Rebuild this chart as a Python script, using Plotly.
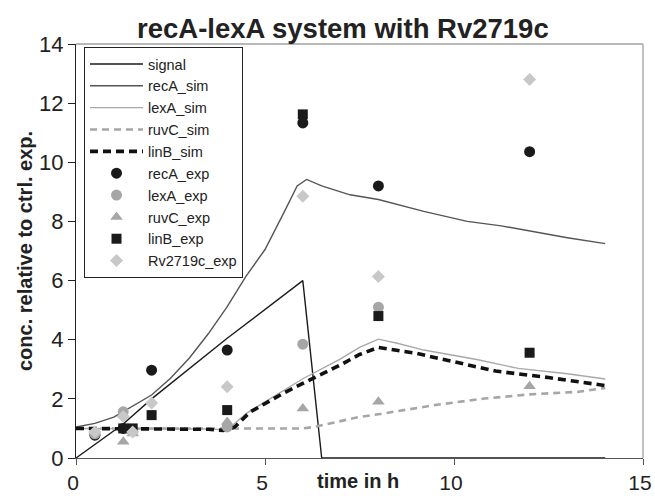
import plotly.graph_objects as go

# ---- data ----
signal_t = [0, 1.25, 2, 4, 6, 6.5, 14]
signal_v = [0, 1.15, 2.0, 4.05, 6.0, 0, 0]

recA_sim_t = [0, 0.5, 1, 1.5, 2, 2.5, 3, 3.5, 4, 4.5, 5, 5.5, 5.85, 6.1, 6.5, 7.25, 8, 9.2, 10.35, 11.25, 12, 13, 14]
recA_sim_v = [1.05, 1.17, 1.38, 1.75, 2.13, 2.7, 3.38, 4.2, 5.12, 6.15, 7.05, 8.3, 9.2, 9.42, 9.2, 8.9, 8.74, 8.34, 8.0, 7.85, 7.68, 7.45, 7.25]

lexA_sim_t = [0, 1, 2, 3, 3.5, 4, 4.5, 5, 5.5, 6, 7, 7.5, 8, 8.5, 9.2, 10.6, 11.7, 13, 14]
lexA_sim_v = [1.0, 1.0, 1.0, 1.0, 0.98, 0.95, 1.5, 1.9, 2.3, 2.68, 3.35, 3.74, 4.02, 3.88, 3.65, 3.33, 3.03, 2.85, 2.67]

ruvC_sim_t = [0, 6, 6.3, 6.5, 7.5, 8, 9.5, 10.8, 12, 13.3, 14]
ruvC_sim_v = [1.0, 1.0, 1.05, 1.11, 1.39, 1.48, 1.79, 2.01, 2.15, 2.24, 2.37]

linB_sim_t = [0, 3, 3.5, 3.9, 4.2, 4.6, 5, 5.5, 6, 7, 7.5, 8, 9, 10, 11.1, 12.5, 13.6, 14]
linB_sim_v = [1.0, 1.0, 0.97, 0.93, 1.05, 1.55, 1.85, 2.2, 2.52, 3.15, 3.5, 3.74, 3.54, 3.25, 2.94, 2.72, 2.5, 2.45]

recA_exp_t = [0.5, 1.25, 2, 4, 6, 8, 12]
recA_exp_v = [0.77, 1.0, 2.97, 3.65, 11.33, 9.2, 10.36]

lexA_exp_t = [0.5, 1.25, 4, 6, 8]
lexA_exp_v = [0.82, 1.56, 1.05, 3.85, 5.1]

ruvC_exp_t = [1.25, 1.5, 4, 6, 8, 12]
ruvC_exp_v = [0.55, 0.83, 1.22, 1.67, 1.9, 2.43]

linB_exp_t = [1.25, 1.5, 2, 4, 6, 8, 12]
linB_exp_v = [1.0, 1.0, 1.45, 1.62, 11.62, 4.8, 3.56]

Rv_exp_t = [0.5, 1.25, 1.5, 2, 4, 6, 8, 12]
Rv_exp_v = [0.88, 1.4, 0.88, 1.86, 2.41, 8.85, 6.14, 12.8]

x_ticks = [0, 5, 10, 15]
y_ticks = [0, 2, 4, 6, 8, 10, 12, 14]

FONT = "Liberation Sans, Arial, sans-serif"

fig = go.Figure()

def line(name, t, v, color, width, dash="solid"):
    fig.add_trace(go.Scatter(x=t, y=v, mode="lines", name=name,
                             line=dict(color=color, width=width, dash=dash)))

def pts(name, t, v, color, symbol, size):
    fig.add_trace(go.Scatter(x=t, y=v, mode="markers", name=name,
                             marker=dict(color=color, symbol=symbol, size=size,
                                         line=dict(width=0))))

line("signal", signal_t, signal_v, "#1a1a1a", 1.4)
line("recA_sim", recA_sim_t, recA_sim_v, "#555555", 1.4)
line("lexA_sim", lexA_sim_t, lexA_sim_v, "#a8a8a8", 1.4)
line("ruvC_sim", ruvC_sim_t, ruvC_sim_v, "#a6a6a6", 2.6, "7px,5px")
line("linB_sim", linB_sim_t, linB_sim_v, "#111111", 3.6, "8px,5px")
pts("recA_exp", recA_exp_t, recA_exp_v, "#1a1a1a", "circle", 11)
pts("lexA_exp", lexA_exp_t, lexA_exp_v, "#a6a6a6", "circle", 11)
pts("ruvC_exp", ruvC_exp_t, ruvC_exp_v, "#a6a6a6", "triangle-up", 11)
pts("linB_exp", linB_exp_t, linB_exp_v, "#1a1a1a", "square", 10)
pts("Rv2719c_exp", Rv_exp_t, Rv_exp_v, "#c8c8c8", "diamond", 10)

# body margin is removed in the page (post_script), so figure coords = page coords
W, H = 655, 496
L, T = 76, 44
R = W - 643
B = H - 458
pw, ph = W - L - R, H - T - B

def px_x(page_x):
    return (page_x - L) / pw

def px_y(page_y):
    return 1 - (page_y - T) / ph

fig.update_layout(
    width=W, height=H,
    margin=dict(l=L, r=R, t=T, b=B, autoexpand=False),
    paper_bgcolor="white", plot_bgcolor="white",
    font=dict(family=FONT, color="#222222"),
    showlegend=True,
    legend=dict(x=px_x(84), y=px_y(47), xanchor="left", yanchor="top",
                bgcolor="white", bordercolor="#222222", borderwidth=1,
                font=dict(size=14.5, family=FONT, color="#222222"),
                itemwidth=53, tracegroupgap=0),
    xaxis=dict(range=[0, 15], tickvals=x_ticks, ticktext=[str(v) for v in x_ticks],
               showgrid=False, zeroline=False, showline=True, linecolor="#555555",
               linewidth=1.3, ticks="outside", ticklen=6, tickcolor="#555555",
               tickfont=dict(size=21, family=FONT, color="#222222"),
               ticklabelstandoff=0, ticklabelshift=-3,
               automargin=False, ticklabeloverflow="allow"),
    yaxis=dict(range=[0, 14], tickvals=y_ticks, ticktext=[str(v) for v in y_ticks],
               showgrid=False, zeroline=False, showline=True, linecolor="#222222",
               linewidth=1.3, ticks="outside", ticklen=7, tickcolor="#222222",
               tickfont=dict(size=22, family=FONT, color="#222222"),
               automargin=False, ticklabeloverflow="allow"),
    shapes=[
        dict(type="line", xref="paper", yref="paper", x0=0, x1=1, y0=1, y1=1,
             line=dict(color="#a0a0a0", width=1.3), layer="below"),
        dict(type="line", xref="paper", yref="paper", x0=1, x1=1, y0=0, y1=1,
             line=dict(color="#a0a0a0", width=1.3), layer="below"),
    ],
    annotations=[
        dict(text="<b>recA-lexA system with Rv2719c</b>", xref="paper", yref="paper",
             x=px_x(343), y=px_y(28), xanchor="center", yanchor="middle",
             showarrow=False, font=dict(size=27.5, family=FONT, color="#222222")),
        dict(text="<b>time in h</b>", xref="paper", yref="paper",
             x=px_x(358), y=px_y(481), xanchor="center", yanchor="middle",
             showarrow=False, font=dict(size=20, family=FONT, color="#222222")),
        dict(text="<b>conc. relative to ctrl. exp.</b>", xref="paper", yref="paper",
             x=px_x(25), y=0.5, xanchor="center", yanchor="middle", textangle=-90,
             showarrow=False, font=dict(size=20, family=FONT, color="#222222")),
    ],
)

fig.write_html("out.html", config={"displayModeBar": False},
               post_script="document.body.style.margin='0';document.body.style.overflow='hidden';")
